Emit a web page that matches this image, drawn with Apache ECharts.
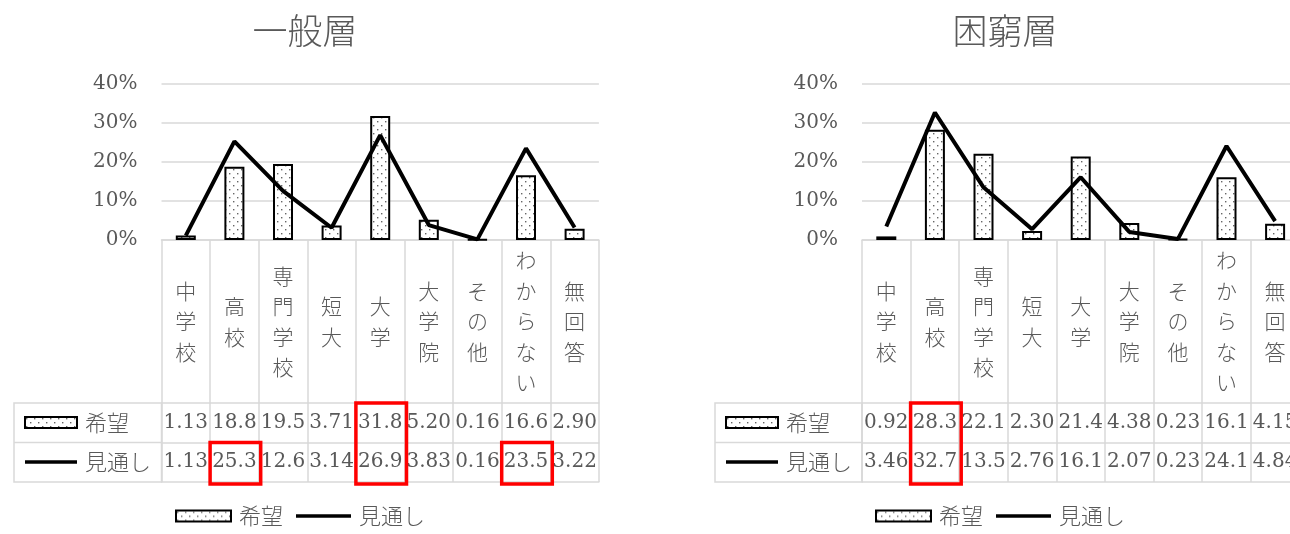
<!DOCTYPE html>
<html>
<head>
<meta charset="utf-8">
<script src="https://cdn.jsdelivr.net/npm/echarts@6/dist/echarts.min.js"></script>
<style>
  html, body { margin: 0; padding: 0; background: #fff; }
  #chart { width: 1290px; height: 534px; }
</style>
</head>
<body>
<div id="chart"></div>
<script>
// データ
const categories = ['中学校', '高校', '専門学校', '短大', '大学', '大学院', 'その他', 'わからない', '無回答'];
const seriesNames = ['希望', '見通し'];
const panelTitles = ['一般層', '困窮層'];
const generalHope = [1.13, 18.8, 19.5, 3.71, 31.8, 5.20, 0.16, 16.6, 2.90];
const generalOutlook = [1.13, 25.3, 12.6, 3.14, 26.9, 3.83, 0.16, 23.5, 3.22];
const poorHope = [0.92, 28.3, 22.1, 2.30, 21.4, 4.38, 0.23, 16.1, 4.15];
const poorOutlook = [3.46, 32.7, 13.5, 2.76, 16.1, 2.07, 0.23, 24.1, 4.84];
const yTicks = [0, 10, 20, 30, 40];
// 赤枠 [列, 開始行, 終了行]
const generalMarks = [[1, 1, 1], [4, 0, 1], [7, 1, 1]];
const poorMarks = [[1, 0, 1]];

const GRAY = '#595959';
const LINE = '#d9d9d9';
const JP = '"Noto Sans CJK JP", sans-serif';
const NUM = '"DejaVu Serif", serif';
const PLOT_TOP = 84, PLOT_H = 156, LABEL_ROW = 163, ROW_H = 39.5, COL_W = 48.6;

function dotPattern() {
  const c = document.createElement('canvas');
  c.width = 8; c.height = 8;
  const ctx = c.getContext('2d');
  ctx.fillStyle = '#fff';
  ctx.fillRect(0, 0, 8, 8);
  ctx.fillStyle = '#666';
  ctx.fillRect(1, 1, 1.4, 1.4);
  ctx.fillRect(5, 5, 1.4, 1.4);
  return c;
}
const pattern = { image: dotPattern(), repeat: 'repeat' };

function fmt(v) { return v >= 10 ? v.toFixed(1) : v.toFixed(2); }

const legendData = [
  { name: seriesNames[0], icon: 'rect' },
  { name: seriesNames[1], icon: 'path://M0,0H52V3.5H0Z' }
];

const panels = [
  { title: panelTitles[0], gridLeft: 161.5, tableLeft: 14, center: 300, hope: generalHope, outlook: generalOutlook, marks: generalMarks },
  { title: panelTitles[1], gridLeft: 862, tableLeft: 715, center: 1000, hope: poorHope, outlook: poorOutlook, marks: poorMarks }
];

const option = { animation: false, title: [], grid: [], xAxis: [], yAxis: [], series: [], legend: [], graphic: [] };

panels.forEach((p, g) => {
  option.title.push({
    text: p.title, left: p.center, top: 8, textAlign: 'center',
    textStyle: { fontFamily: JP, fontSize: 35, fontWeight: 300, color: GRAY }
  });
  option.grid.push({
    left: p.gridLeft, top: PLOT_TOP, width: COL_W * categories.length, height: PLOT_H,
    containLabel: false, outerBoundsMode: 'none'
  });
  option.yAxis.push({
    gridIndex: g, type: 'value', min: yTicks[0], max: yTicks[yTicks.length - 1], interval: 10,
    axisLine: { show: false }, axisTick: { show: false },
    axisLabel: { formatter: '{value}%', fontFamily: NUM, fontSize: 20, color: GRAY, margin: 24 },
    splitLine: { lineStyle: { color: LINE, width: 1.5 } }
  });
  const base = {
    gridIndex: g, type: 'category', data: categories, position: 'bottom',
    axisLine: { show: true, lineStyle: { color: LINE, width: 1.5 } },
    axisTick: { show: true, interval: 0, lineStyle: { color: LINE, width: 1.5 } }
  };
  // 項目名の行
  option.xAxis.push(Object.assign({}, base, {
    axisTick: Object.assign({}, base.axisTick, { length: LABEL_ROW }),
    axisLabel: {
      interval: 0, margin: LABEL_ROW / 2, verticalAlign: 'middle',
      formatter: s => s.split('').join('\n'),
      fontFamily: JP, fontSize: 21, fontWeight: 300, lineHeight: 30.5, color: GRAY
    }
  }));
  // 数値の行
  [p.hope, p.outlook].forEach((vals, r) => {
    option.xAxis.push(Object.assign({}, base, {
      offset: LABEL_ROW + r * ROW_H,
      axisTick: Object.assign({}, base.axisTick, { length: ROW_H }),
      axisLabel: {
        interval: 0, margin: ROW_H / 2, verticalAlign: 'middle',
        formatter: (v, i) => fmt(vals[i]),
        fontFamily: NUM, fontSize: 20, color: GRAY
      }
    }));
  });
  option.xAxis.push(Object.assign({}, base, {
    offset: LABEL_ROW + 2 * ROW_H, axisTick: { show: false }, axisLabel: { show: false }
  }));
  const xi = g * 4;
  option.series.push({
    name: seriesNames[0], type: 'bar', xAxisIndex: xi, yAxisIndex: g, data: p.hope, barWidth: 20,
    itemStyle: { color: pattern, borderColor: '#000', borderWidth: 2 }
  });
  option.series.push({
    name: seriesNames[1], type: 'line', xAxisIndex: xi, yAxisIndex: g, data: p.outlook,
    symbol: 'none', lineStyle: { color: '#000', width: 4 }, itemStyle: { color: '#000' }, z: 3
  });
  // 下の凡例
  option.legend.push({
    data: legendData, left: p.center - 125, top: 505, padding: 0,
    itemWidth: 55, itemHeight: 11, itemGap: 13, selectedMode: false,
    textStyle: { fontFamily: JP, fontSize: 22, fontWeight: 300, color: GRAY, padding: [0, 0, 0, 3] }
  });
  // 表の凡例列
  const tableTop = PLOT_TOP + PLOT_H + LABEL_ROW;
  option.legend.push({
    data: legendData, orient: 'vertical', left: p.tableLeft + 10, top: tableTop + 7, padding: 0,
    itemWidth: 52, itemHeight: 11, itemGap: ROW_H - 25, selectedMode: false,
    textStyle: { fontFamily: JP, fontSize: 22, fontWeight: 300, lineHeight: 25, color: GRAY, padding: [0, 0, 0, 3] }
  });
  option.graphic.push({
    type: 'rect', silent: true,
    shape: { x: p.tableLeft, y: tableTop, width: p.gridLeft - p.tableLeft, height: 2 * ROW_H },
    style: { fill: null, stroke: LINE, lineWidth: 1.5 }
  });
  option.graphic.push({
    type: 'line', silent: true,
    shape: { x1: p.tableLeft, y1: tableTop + ROW_H, x2: p.gridLeft, y2: tableTop + ROW_H },
    style: { stroke: LINE, lineWidth: 1.5 }
  });
  p.marks.forEach(([col, r0, r1]) => {
    option.graphic.push({
      type: 'rect', silent: true, z: 100,
      shape: { x: p.gridLeft + col * COL_W, y: tableTop + r0 * ROW_H, width: COL_W + 2, height: (r1 - r0 + 1) * ROW_H + 2 },
      style: { fill: null, stroke: '#ff0000', lineWidth: 3.5 }
    });
  });
});

const chart = echarts.init(document.getElementById('chart'));
chart.setOption(option);
</script>
</body>
</html>
